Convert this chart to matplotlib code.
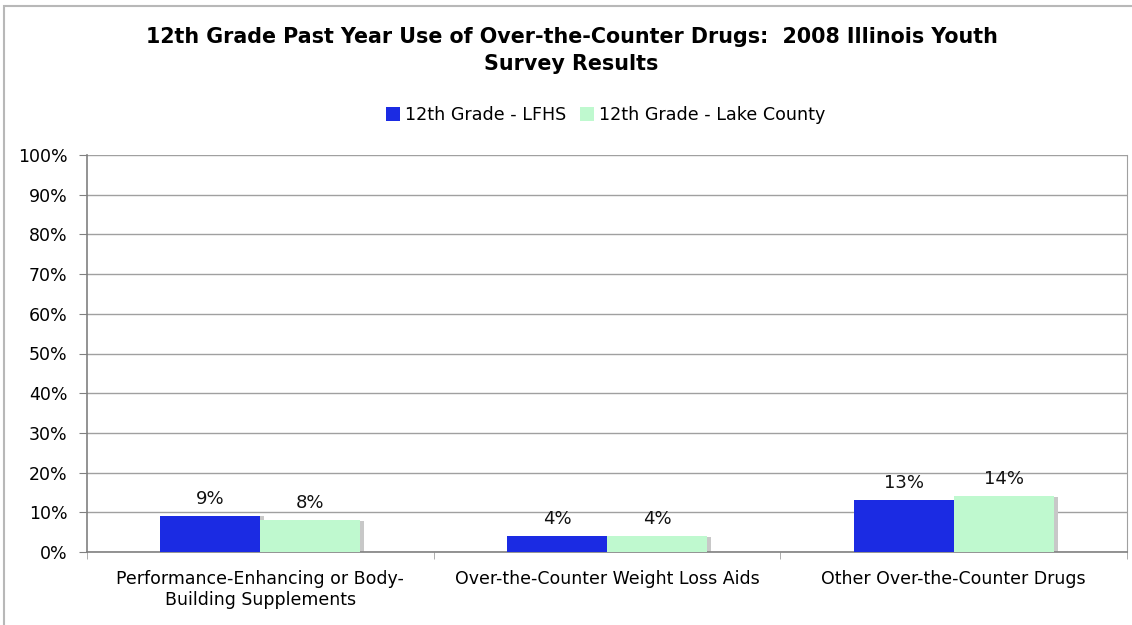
import numpy as np
import matplotlib.pyplot as plt
from matplotlib.patches import Rectangle

categories = ["Performance-Enhancing or Body-\nBuilding Supplements",
              "Over-the-Counter Weight Loss Aids",
              "Other Over-the-Counter Drugs"]
lfhs = [9, 4, 13]
lake_county = [8, 4, 14]
series_names = ["12th Grade - LFHS", "12th Grade - Lake County"]

blue = "#1b2be3"
green = "#bff9cf"

plt.rcParams['font.family'] = ['DejaVu Sans']

fig = plt.figure(figsize=(11.32, 6.25), dpi=100)
ax = fig.add_axes([87 / 1132, 1 - 552 / 625, (1127 - 87) / 1132, (552 - 155) / 625])

# outer chart border (only left/top visible in the crop)
fig.patches.append(Rectangle((4 / 1132, -0.1), 1.2, 1.1 - 6 / 625, transform=fig.transFigure,
                             fill=False, edgecolor="#b8b8b8", linewidth=1.5))

x = np.arange(len(categories))
w = 0.288
shadow = 0.012
# drop shadows
ax.bar(x - w / 2 + shadow, lfhs, w, color="#c8c8c8", zorder=2)
ax.bar(x + w / 2 + shadow, [v - 0.25 for v in lake_county], w, color="#c8c8c8", zorder=2)
b1 = ax.bar(x - w / 2, lfhs, w, color=blue, label=series_names[0], zorder=3)
b2 = ax.bar(x + w / 2, lake_county, w, color=green, label=series_names[1], zorder=3)

for bars, vals in ((b1, lfhs), (b2, lake_county)):
    for r, v in zip(bars, vals):
        ax.text(r.get_x() + r.get_width() / 2, v + 2.0, f"{v}%", ha="center", va="bottom",
                fontsize=13, color="#111111")

ax.set_xlim(-0.5, 2.5)
ax.set_ylim(0, 100)
ax.set_yticks(range(0, 101, 10))
ax.set_yticklabels([f"{t}%" for t in range(0, 101, 10)], fontsize=12.5)
ax.yaxis.grid(True, color="#a0a0a0", linewidth=1)
ax.set_axisbelow(True)

ax.set_xticks(x)
ax.set_xticklabels(categories, fontsize=12.5)
ax.tick_params(axis="x", length=0, pad=13)
ax.set_xticks([-0.5, 0.5, 1.5, 2.5], minor=True)
ax.tick_params(axis="x", which="minor", length=5, color="#a0a0a0", direction="out")
ax.tick_params(axis="y", length=6, color="#808080", pad=8)

ax.spines["top"].set_visible(False)
ax.spines["right"].set_color("#a0a0a0")
ax.spines["left"].set_color("#808080")
ax.spines["bottom"].set_color("#808080")
ax.spines["left"].set_linewidth(1.2)
ax.spines["bottom"].set_linewidth(1.2)

fig.text(0.505, 1 - 37 / 625, "12th Grade Past Year Use of Over-the-Counter Drugs:  2008 Illinois Youth",
         ha="center", va="center", fontsize=14.9, fontweight="bold")
fig.text(0.505, 1 - 64 / 625, "Survey Results", ha="center", va="center", fontsize=14.9, fontweight="bold")

fig.legend(handles=[b1, b2], labels=series_names, loc="center", bbox_to_anchor=(0.535, 1 - 115 / 625),
           ncol=2, frameon=False, fontsize=12.6, handlelength=0.8, handleheight=0.8,
           handletextpad=0.3, columnspacing=0.8)

fig.savefig("out.png", dpi=100)
